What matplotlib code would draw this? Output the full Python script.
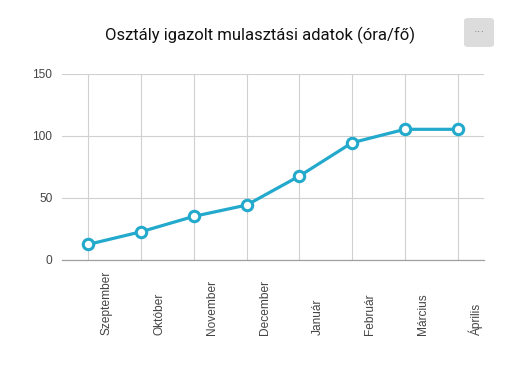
import matplotlib.pyplot as plt
import matplotlib.transforms as mtransforms
from matplotlib.patches import FancyBboxPatch

months = ["Szeptember", "Október", "November", "December",
          "Január", "Február", "Március", "Április"]
hours = [12.6, 22.8, 35.2, 44.3, 67.7, 94.6, 105.4, 105.4]
yticks = [0, 50, 100, 150]

LINE = "#22a9cc"
TEXT = "#444444"


def main():
  plt.rcParams["font.family"] = ["Liberation Sans", "DejaVu Sans"]
  fig = plt.figure(figsize=(5.1, 3.65), dpi=100)
  ax = fig.add_axes([62 / 510, 105 / 365, 422 / 510, 186 / 365])

  x = list(range(len(months)))
  ax.plot(x, hours, "-o", color=LINE, linewidth=2.3, markersize=7.5,
          markerfacecolor="white", markeredgewidth=2.2, zorder=3,
          clip_on=False)

  ax.set_xlim(-0.5, len(months) - 0.5)
  ax.set_ylim(0, 150)
  ax.set_yticks(yticks)
  ax.set_xticks(x)
  ax.set_xticklabels([])
  ax.grid(True, color="#d0d0d0", linewidth=0.8)
  ax.tick_params(length=0, labelsize=8.6, labelcolor=TEXT, pad=7)
  for s in ["top", "right", "left"]:
    ax.spines[s].set_visible(False)
  ax.spines["bottom"].set_color("#a0a0a0")
  ax.spines["bottom"].set_linewidth(0.9)

  # month labels sit right of the gridline, bottom-aligned
  shift = mtransforms.ScaledTranslation(0.18, 0, fig.dpi_scale_trans)
  trans = ax.get_xaxis_transform() + shift
  for i, m in enumerate(months):
    ax.text(i, -0.403, m, rotation=90, ha="center", va="bottom",
            fontsize=8.6, color=TEXT, transform=trans)

  fig.text(260 / 510, 1 - 35 / 365, "Osztály igazolt mulasztási adatok (óra/fő)",
           ha="center", va="center", fontsize=12, family="Roboto",
           color="#111111")

  # menu button
  btn = FancyBboxPatch((464 / 510, 1 - 47 / 365), 30 / 510, 29 / 365,
                       boxstyle="round,pad=0,rounding_size=0.008",
                       transform=fig.transFigure, facecolor="#dcdcdc",
                       edgecolor="none")
  fig.patches.append(btn)
  fig.text(479 / 510, 1 - 32 / 365, "···", ha="center", va="center",
           fontsize=8, color="#777777")

  fig.savefig("out.png", dpi=100)


if __name__ == "__main__":
  main()
